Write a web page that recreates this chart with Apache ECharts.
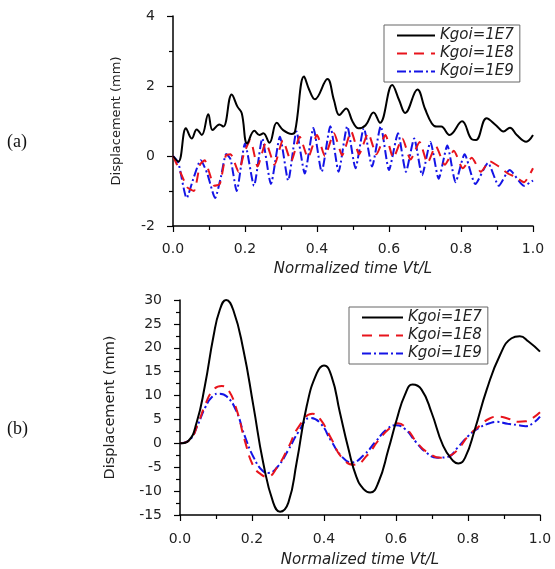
<!DOCTYPE html>
<html>
<head>
<meta charset="UTF-8">
<title>Displacement</title>
<script src="https://cdn.jsdelivr.net/npm/echarts@6/dist/echarts.min.js"></script>
<style>
  html, body { margin: 0; padding: 0; background: #fff; }
  #main { width: 555px; height: 569px; }
</style>
</head>
<body>
<div id="main"></div>
<script type="text/javascript">
// series names (legend)
var names = ['Kgoi=1E7', 'Kgoi=1E8', 'Kgoi=1E9'];

// (a) normalized time / displacement (mm)
var tA7 = [0, 0.015, 0.036, 0.052, 0.066, 0.08, 0.098, 0.11, 0.129, 0.14, 0.163, 0.179, 0.191, 0.206, 0.226, 0.24, 0.251, 0.268, 0.288, 0.306, 0.33, 0.339, 0.364, 0.378, 0.394, 0.429, 0.447, 0.462, 0.481, 0.499, 0.515, 0.535, 0.557, 0.575, 0.609, 0.628, 0.645, 0.679, 0.7, 0.719, 0.732, 0.745, 0.768, 0.803, 0.83, 0.842, 0.871, 0.897, 0.918, 0.936, 0.955, 0.981, 1.0];
var dA7 = [0, -0.16, 0.79, 0.5, 0.76, 0.6, 1.19, 0.74, 0.9, 0.84, 1.76, 1.41, 1.22, 0.36, 0.72, 0.6, 0.65, 0.38, 0.95, 0.74, 0.63, 0.7, 2.27, 1.9, 1.62, 2.2, 1.6, 1.17, 1.36, 0.98, 0.79, 0.88, 1.24, 0.95, 2.03, 1.6, 1.23, 1.9, 1.35, 0.93, 0.84, 0.84, 0.6, 0.99, 0.48, 0.46, 1.08, 0.88, 0.7, 0.81, 0.6, 0.41, 0.6];

var tA8 = [0, 0.02, 0.04, 0.058, 0.075, 0.088, 0.1, 0.115, 0.13, 0.147, 0.16, 0.182, 0.198, 0.215, 0.235, 0.258, 0.282, 0.305, 0.328, 0.352, 0.375, 0.4, 0.422, 0.447, 0.47, 0.495, 0.517, 0.542, 0.565, 0.59, 0.612, 0.637, 0.66, 0.685, 0.707, 0.73, 0.755, 0.78, 0.805, 0.83, 0.855, 0.88, 0.905, 0.93, 0.952, 0.975, 1.0];
var dA8 = [0, -0.45, -0.9, -1.0, -0.25, -0.12, -0.45, -0.85, -0.8, 0.02, 0.05, -0.45, 0.1, 0.45, -0.3, 0.38, -0.25, 0.45, -0.15, 0.55, -0.05, 0.6, 0.0, 0.65, 0.02, 0.7, 0.05, 0.65, 0.05, 0.6, -0.05, 0.5, -0.1, 0.4, -0.2, 0.28, -0.25, 0.15, -0.35, -0.05, -0.45, -0.15, -0.3, -0.5, -0.6, -0.75, -0.35];

var tA9 = [0, 0.015, 0.038, 0.058, 0.077, 0.095, 0.117, 0.133, 0.148, 0.16, 0.177, 0.2, 0.225, 0.248, 0.272, 0.297, 0.32, 0.343, 0.366, 0.39, 0.413, 0.437, 0.46, 0.484, 0.507, 0.53, 0.553, 0.577, 0.6, 0.625, 0.647, 0.67, 0.692, 0.715, 0.738, 0.762, 0.785, 0.81, 0.84, 0.875, 0.905, 0.935, 0.975, 1.0];
var dA9 = [0, -0.2, -1.2, -0.6, -0.12, -0.5, -1.2, -0.6, 0.06, -0.1, -1.0, 0.36, -0.85, 0.5, -0.8, 0.55, -0.7, 0.7, -0.5, 0.8, -0.45, 0.85, -0.45, 0.85, -0.35, 0.8, -0.3, 0.85, -0.4, 0.65, -0.45, 0.5, -0.55, 0.4, -0.65, 0.3, -0.75, 0.05, -0.8, -0.2, -0.85, -0.4, -0.85, -0.7];

// (b)
var tB7 = [0, 0.023, 0.046, 0.069, 0.093, 0.11, 0.128, 0.148, 0.176, 0.204, 0.231, 0.259, 0.278, 0.301, 0.324, 0.352, 0.38, 0.4, 0.421, 0.444, 0.468, 0.49, 0.51, 0.528, 0.551, 0.579, 0.602, 0.625, 0.646, 0.671, 0.699, 0.731, 0.759, 0.773, 0.792, 0.819, 0.852, 0.889, 0.921, 0.944, 0.968, 1.0];
var dB7 = [0, 0.5, 4.3, 12, 22.4, 27.8, 30, 27.9, 19.6, 7.8, -4, -12.4, -14.3, -12.4, -4, 7.8, 14.7, 16.3, 14, 6.5, -1.2, -7, -9.6, -10.3, -8.2, -1.25, 5, 10.2, 12.3, 11.25, 6.4, -0.55, -3.7, -4.2, -3, 2.9, 11.25, 18.5, 22, 22.4, 21.3, 19.2];

var tB8 = [0, 0.028, 0.051, 0.07, 0.093, 0.116, 0.134, 0.157, 0.181, 0.204, 0.225, 0.242, 0.27, 0.3, 0.33, 0.368, 0.39, 0.42, 0.45, 0.485, 0.52, 0.55, 0.58, 0.605, 0.63, 0.66, 0.69, 0.725, 0.75, 0.775, 0.8, 0.83, 0.86, 0.885, 0.91, 0.94, 0.96, 0.98, 1.0];
var dB8 = [0, 0.8, 4.3, 8.1, 11.2, 12, 11.2, 7.1, 0.3, -4.8, -6.5, -7, -5, -1, 3.5, 6.2, 5, 1, -3, -4.5, -2.5, 0.5, 3, 4.2, 3, 0, -2, -3, -2.6, -1, 1.5, 3.5, 5.2, 5.6, 5.2, 4.5, 4.6, 5.3, 6.5];

var tB9 = [0, 0.028, 0.05, 0.07, 0.09, 0.11, 0.13, 0.155, 0.18, 0.205, 0.23, 0.245, 0.27, 0.3, 0.33, 0.362, 0.39, 0.42, 0.45, 0.477, 0.51, 0.545, 0.575, 0.6, 0.625, 0.655, 0.685, 0.715, 0.745, 0.77, 0.8, 0.83, 0.86, 0.88, 0.91, 0.94, 0.96, 0.98, 1.0];
var dB9 = [0, 0.8, 4, 7.5, 9.8, 10.4, 9.8, 7, 1.5, -3, -5.8, -6.2, -5, -1.5, 2.5, 5.3, 4.2, 0.5, -2.8, -4, -2.5, 0.5, 3, 3.8, 3, 0.3, -2, -3, -2.8, -1, 1.5, 3.2, 4.2, 4.5, 4.1, 3.8, 3.6, 4.2, 5.6];

function pairs(t, d) {
  return t.map(function (x, i) { return [x, d[i]]; });
}

var FONT = 'DejaVu Sans';
var lineStyles = [
  { color: '#000', width: 2, type: 'solid' },
  { color: '#e8141c', width: 2, type: [10, 7] },
  { color: '#1414e6', width: 2, type: [9, 3, 2, 3] }
];

function xAxisOf(idx, labelMargin, nameGap) {
  return {
    type: 'value', gridIndex: idx, min: 0, max: 1, interval: 0.2,
    name: 'Normalized time Vt/L', nameLocation: 'middle', nameGap: nameGap,
    nameTextStyle: { fontFamily: FONT, fontSize: 15, fontStyle: 'italic', color: '#222' },
    axisLine: { onZero: false, lineStyle: { color: '#000', width: 1.5 } },
    axisTick: { length: 6, lineStyle: { color: '#000', width: 1.2 } },
    minorTick: { show: true, splitNumber: 2, length: 4, lineStyle: { color: '#000', width: 1.2 } },
    splitLine: { show: false },
    axisLabel: { margin: labelMargin, fontFamily: FONT, fontSize: 14, color: '#222',
      formatter: function (v) { return v.toFixed(1); } }
  };
}

function yAxisOf(idx, min, max, step, nameSize, nameGap) {
  return {
    type: 'value', gridIndex: idx, min: min, max: max, interval: step,
    name: 'Displacement (mm)', nameLocation: 'middle', nameGap: nameGap,
    nameTextStyle: { fontFamily: FONT, fontSize: nameSize, color: '#222' },
    axisLine: { show: true, onZero: false, lineStyle: { color: '#000', width: 1.5 } },
    axisTick: { show: true, length: 6, lineStyle: { color: '#000', width: 1.2 } },
    minorTick: { show: true, splitNumber: 2, length: 4, lineStyle: { color: '#000', width: 1.2 } },
    splitLine: { show: false },
    axisLabel: { margin: 18, fontFamily: FONT, fontSize: 14, color: '#222' }
  };
}

function legendOf(left, top, iconW) {
  return {
    orient: 'vertical', left: left, top: top,
    data: names,
    itemWidth: iconW, itemHeight: 14, itemGap: 3,
    padding: [3, 6, 3, 12],
    borderColor: '#666', borderWidth: 1, borderRadius: 0,
    // hide the circle that line series put in the legend icon
    itemStyle: { opacity: 0, borderWidth: 0 },
    textStyle: { fontFamily: FONT, fontSize: 15, fontStyle: 'italic', color: '#222', lineHeight: 15 }
  };
}

var series = [];
var sets = [
  [pairs(tA7, dA7), pairs(tA8, dA8), pairs(tA9, dA9)],
  [pairs(tB7, dB7), pairs(tB8, dB8), pairs(tB9, dB9)]
];
sets.forEach(function (grp, g) {
  grp.forEach(function (data, k) {
    series.push({
      name: names[k], type: 'line', xAxisIndex: g, yAxisIndex: g,
      data: data, symbol: 'none', smooth: g === 0 ? (k === 0 ? 0.4 : 0.2) : 0.5,
      lineStyle: lineStyles[k], itemStyle: { color: lineStyles[k].color },
      z: 3 - k
    });
  });
});

var chart = echarts.init(document.getElementById('main'));
chart.setOption({
  backgroundColor: '#fff',
  animation: false,
  grid: [
    { left: 173, top: 16, width: 360, height: 210 },
    { left: 180, top: 300, width: 360, height: 216 }
  ],
  xAxis: [xAxisOf(0, 16, 36), xAxisOf(1, 17, 38)],
  yAxis: [yAxisOf(0, -2, 4, 2, 13, 50), yAxisOf(1, -15, 30, 5, 14.5, 62)],
  legend: [legendOf(384, 25, 38), legendOf(349, 307, 41)],
  graphic: [
    { type: 'text', left: 7, top: 133, style: { text: '(a)', font: '18px "Liberation Serif"', fill: '#111' } },
    { type: 'text', left: 7, top: 420, style: { text: '(b)', font: '18px "Liberation Serif"', fill: '#111' } }
  ],
  series: series
});
</script>
</body>
</html>
